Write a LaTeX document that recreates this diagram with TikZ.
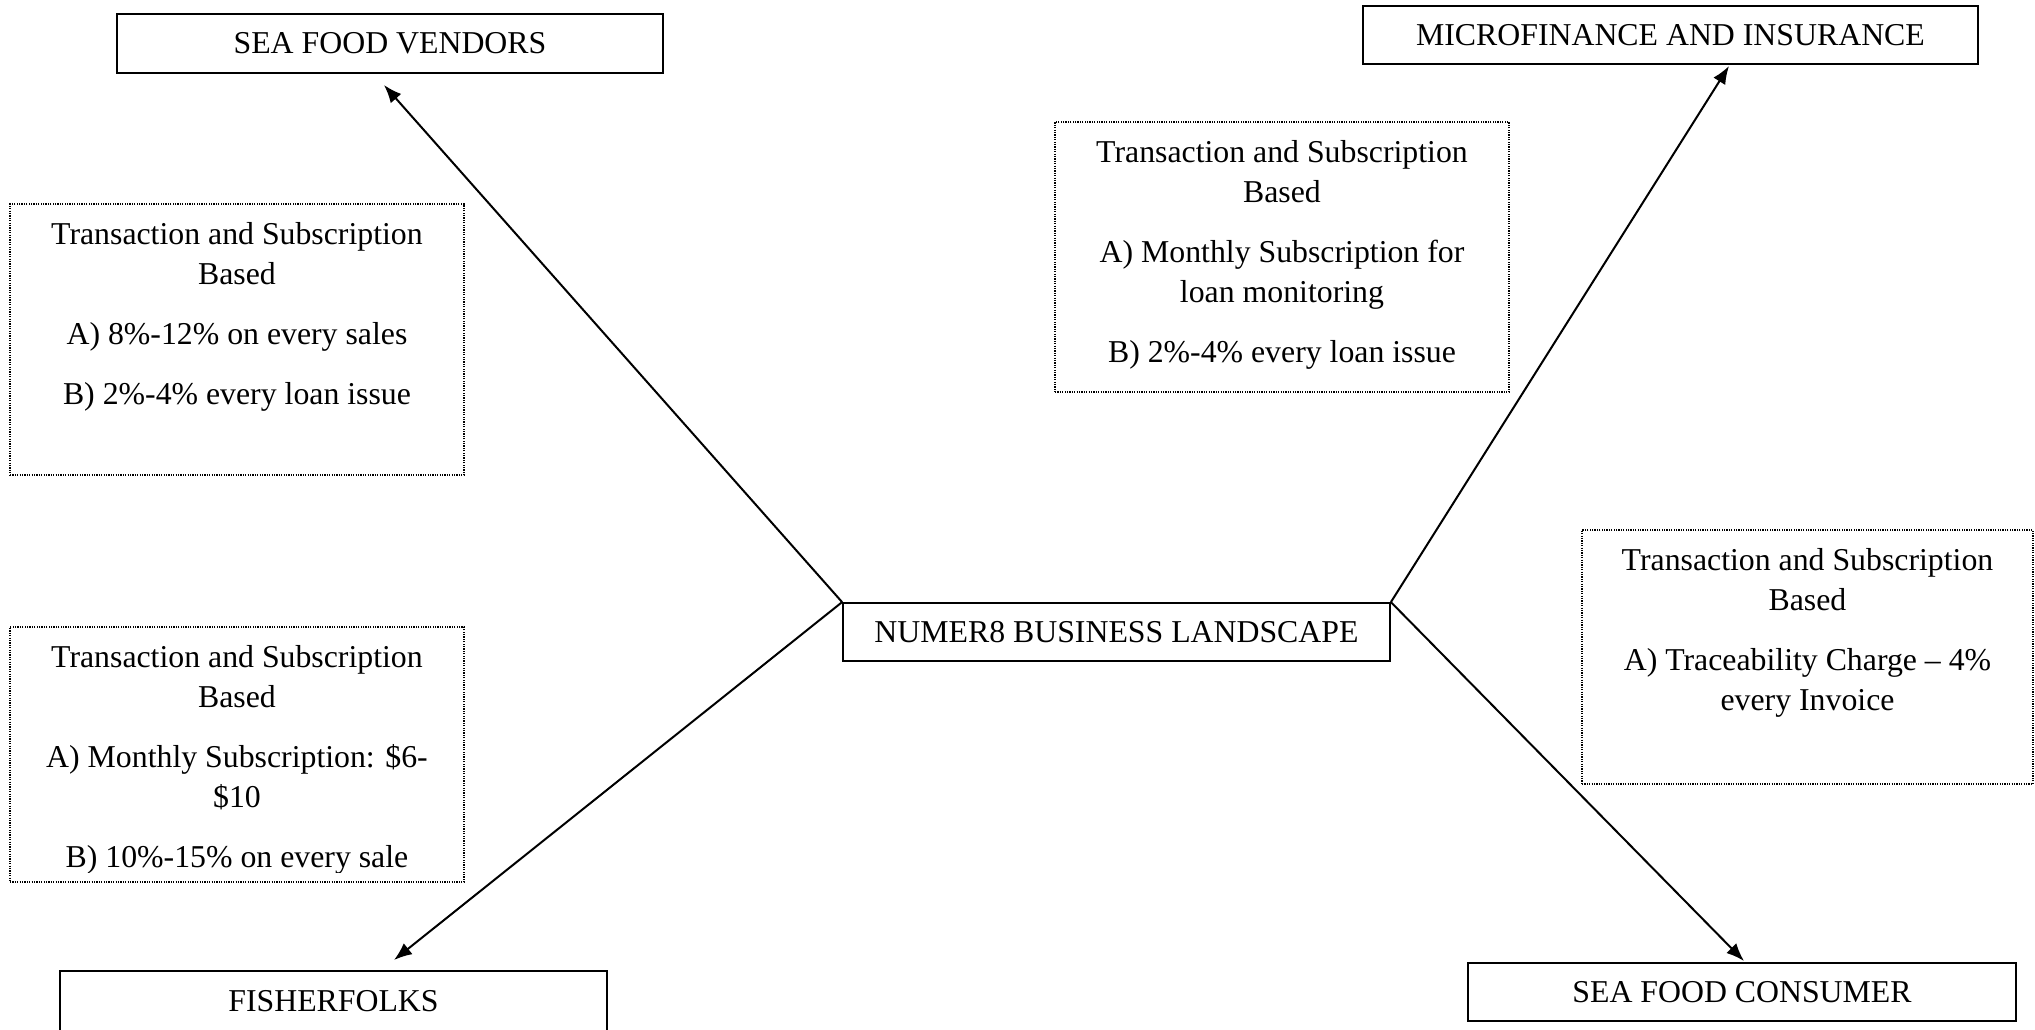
\documentclass[tikz,border=0pt]{standalone}
\usepackage{fontspec}
\setmainfont{Liberation Serif}
\usetikzlibrary{arrows.meta}
\begin{document}
\begin{tikzpicture}[x=0.5pt,y=-0.5pt,
  mainbox/.style={draw, line width=0.9pt, rectangle, inner sep=0pt,
    font=\fontsize{15.9pt}{20pt}\selectfont},
  notebox/.style={draw, line width=0.65pt, dash pattern=on 0.6pt off 0.6pt,
    rectangle, inner sep=0pt},
  notetext/.style={align=center, inner sep=0pt, anchor=north,
    font=\fontsize{15.9pt}{20pt}\selectfont},
  conn/.style={line width=1pt, -{Latex[length=9pt,width=7pt]}}]
\clip (0,0) rectangle (2035,1029);

% main boxes
\node[mainbox, minimum width=273pt, minimum height=29.5pt] (vend) at (390,43.5) {SEA FOOD VENDORS};
\node[mainbox, minimum width=307.5pt, minimum height=29pt] (micro) at (1670.5,35) {MICROFINANCE AND INSURANCE};
\node[mainbox, minimum width=273.5pt, minimum height=29pt] (center) at (1116.5,632) {NUMER8 BUSINESS LANDSCAPE};
\node[mainbox, minimum width=273.5pt, minimum height=30.5pt] (fish) at (333.5,1001.5) {FISHERFOLKS};
\node[mainbox, minimum width=274pt, minimum height=29pt] (cons) at (1742,992) {SEA FOOD CONSUMER};

% arrow tip coordinates
\coordinate (tipV) at (384,85);
\coordinate (tipM) at (1729,66);
\coordinate (tipF) at (394,960);
\coordinate (tipC) at (1744,961);

\draw[conn] (center.north west) -- (tipV);
\draw[conn] (center.north east) -- (tipM);
\draw[conn] (center.north west) -- (tipF);
\draw[conn] (center.north east) -- (tipC);

% note boxes
\node[notebox, minimum width=227pt, minimum height=135.5pt] (noteV) at (237,339.5) {};
\node[notebox, minimum width=227pt, minimum height=127.5pt] (noteF) at (237,754.5) {};
\node[notebox, minimum width=227pt, minimum height=135pt] (noteM) at (1282,257) {};
\node[notebox, minimum width=225.5pt, minimum height=127pt] (noteC) at (1807.5,657) {};

\coordinate (clipF) at (464,872);

\node[notetext] (textV) at (237,216) {\rule{0pt}{14pt}Transaction and Subscription\\Based\\[10pt]
  A) 8\%-12\% on every sales\\[10pt]B) 2\%-4\% every loan issue};
\begin{scope}
\clip (noteF.north west) rectangle (clipF);
\node[notetext] (textF) at (237,639) {\rule{0pt}{14pt}Transaction and Subscription\\Based\\[10pt]
  A) Monthly Subscription: \$6-\\\$10\\[10pt]B) 10\%-15\% on every sale};
\end{scope}
\node[notetext] (textM) at (1282,134) {\rule{0pt}{14pt}Transaction and Subscription\\Based\\[10pt]
  A) Monthly Subscription for\\loan monitoring\\[10pt]B) 2\%-4\% every loan issue};
\node[notetext] (textC) at (1807.5,542) {\rule{0pt}{14pt}Transaction and Subscription\\Based\\[10pt]
  A) Traceability Charge – 4\%\\every Invoice};
\end{tikzpicture}
\end{document}
